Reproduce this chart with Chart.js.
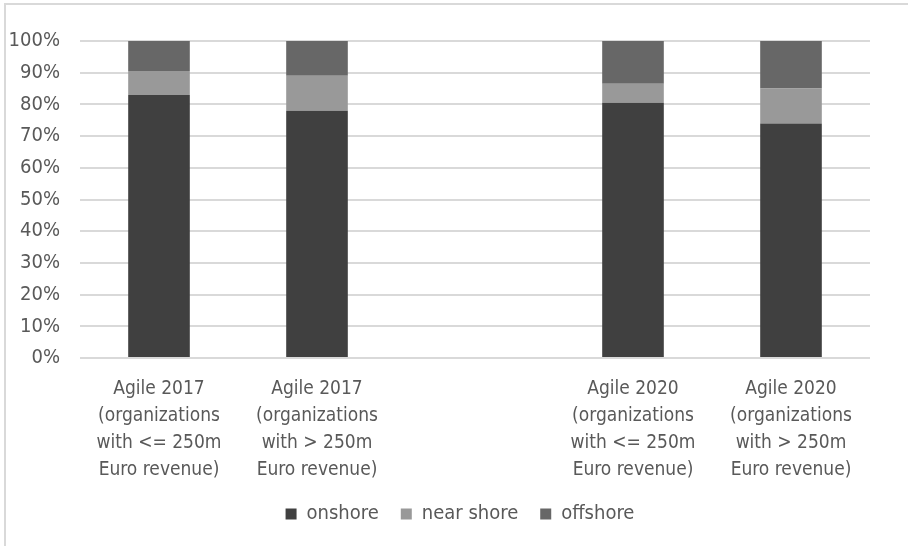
<!DOCTYPE html>
<html>
<head>
<meta charset="utf-8">
<script src="https://cdn.jsdelivr.net/npm/chart.js@4/dist/chart.umd.min.js"></script>
<style>
    html, body { margin: 0; padding: 0; background: #fff; }
    #wrap { position: relative; width: 908px; height: 546px; }
    #frame { position: absolute; left: 4px; top: 3px; right: 0; bottom: 0;
             border-left: 2px solid #d9d9d9; border-top: 2px solid #d9d9d9; }
    canvas { position: absolute; left: 0; top: 0; }
</style>
</head>
<body>
<div id="wrap">
    <div id="frame"></div>
    <canvas id="myChart" width="908" height="546"></canvas>
</div>
<script>
'use strict';
// categories (the empty one is the gap between 2017 and 2020)
const categories = [
    ['Agile 2017', '(organizations', 'with <= 250m', 'Euro revenue)'],
    ['Agile 2017', '(organizations', 'with > 250m', 'Euro revenue)'],
    '',
    ['Agile 2020', '(organizations', 'with <= 250m', 'Euro revenue)'],
    ['Agile 2020', '(organizations', 'with > 250m', 'Euro revenue)'],
];
const onshore = [83, 78, null, 80.5, 74];
const nearShore = [7.5, 11, null, 6, 11];
const offshore = [9.5, 11, null, 13.5, 15];
const yTicks = [0, 10, 20, 30, 40, 50, 60, 70, 80, 90, 100];

const font = "'Liberation Sans Narrow', 'DejaVu Sans Condensed', 'Liberation Sans', sans-serif";
const textColor = '#595959';

const data = {
    labels: categories,
    datasets: [
        { label: 'onshore', data: onshore, backgroundColor: '#404040' },
        { label: 'near shore', data: nearShore, backgroundColor: '#999999' },
        { label: 'offshore', data: offshore, backgroundColor: '#676767' },
    ],
};

//legend sits a bit right of centre, like the original
const shiftLegend = {
    id: 'shiftLegend',
    afterLayout(chart) {
        chart.legend.left += 25;
        chart.legend.right += 25;
    },
};

const config = {
    type: 'bar',
    data: data,
    plugins: [shiftLegend],
    options: {
        responsive: false,
        animation: false,
        layout: { padding: { left: 0, top: 41, right: 38, bottom: 12 } },
        datasets: {
            bar: { barPercentage: 0.39, categoryPercentage: 1, borderWidth: 0 },
        },
        scales: {
            x: {
                stacked: true,
                grid: { display: false },
                border: { display: false },
                ticks: {
                    color: textColor,
                    font: { family: font, size: 19, lineHeight: 1.42 },
                    maxRotation: 0,
                    autoSkip: false,
                    padding: 10,
                },
                afterFit: function (scale) {
                    scale.height = 124;
                },
            },
            y: {
                stacked: true,
                min: 0,
                max: 100,
                grid: { color: '#d9d9d9', lineWidth: 2, drawTicks: false },
                border: { display: false },
                afterBuildTicks: function (scale) {
                    scale.ticks = yTicks.map((v) => ({ value: v }));
                },
                ticks: {
                    color: textColor,
                    font: { family: font, size: 20 },
                    padding: 20,
                    callback: (v) => v + '%',
                },
                afterFit: function (scale) {
                    scale.width = 80;
                },
            },
        },
        plugins: {
            legend: {
                position: 'bottom',
                labels: {
                    color: textColor,
                    font: { family: font, size: 20 },
                    boxWidth: 11,
                    boxHeight: 11,
                    padding: 22,
                },
            },
            tooltip: { enabled: false },
        },
    },
};
const myChart = new Chart(document.getElementById('myChart'), config);
</script>
</body>
</html>
